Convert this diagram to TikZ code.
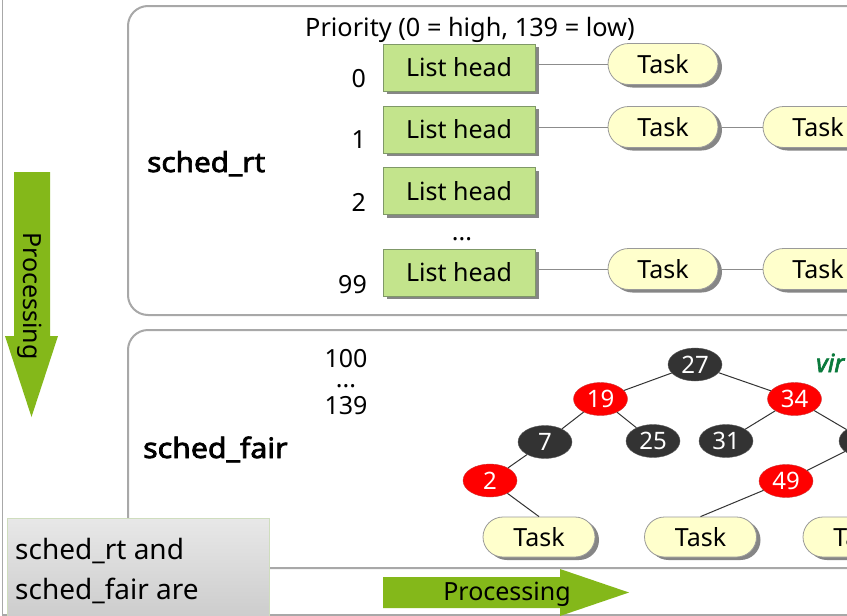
\documentclass[tikz,border=0pt]{standalone}
\usepackage{fontspec}
\setmainfont{Noto Sans}[AutoFakeBold=2.6]
\usetikzlibrary{shapes.geometric,shapes.misc,shadows}

\newcommand{\fsz}[1]{\fontsize{#1}{#1}\selectfont}
\newcommand{\heavy}{\bfseries\addfontfeatures{FakeStretch=1.08}}

\definecolor{framegray}{HTML}{A8A8A8}
\definecolor{lhfill}{HTML}{C3E48C}
\definecolor{lhline}{HTML}{7F9868}
\definecolor{taskfill}{HTML}{FFFFCC}
\definecolor{taskline}{HTML}{9A9A9A}
\definecolor{shadowgray}{HTML}{868686}
\definecolor{linkgray}{HTML}{8C8C8C}
\definecolor{rbblack}{HTML}{333333}
\definecolor{rbred}{HTML}{FF0000}
\definecolor{arrowgreen}{HTML}{84B81A}
\definecolor{vrgreen}{HTML}{0A7A3C}
\definecolor{notetop}{HTML}{E8E8E8}
\definecolor{notebot}{HTML}{C6C6C6}
\definecolor{noteline}{HTML}{CFDDBE}

\tikzset{
  frame/.style={draw=framegray, line width=1.5pt},
  panel/.style={draw=framegray, line width=2pt, rounded corners=20pt},
  listhead/.style={rectangle, draw=lhline, fill=lhfill, line width=0.8pt,
    minimum width=152pt, minimum height=47pt, inner sep=0pt, font=\fsz{25},
    drop shadow={shadow xshift=4pt, shadow yshift=-3pt, fill=shadowgray, opacity=1}},
  task/.style={rounded rectangle, draw=taskline, fill=taskfill, line width=0.8pt,
    minimum width=110pt, minimum height=41pt, inner sep=0pt, font=\fsz{25},
    drop shadow={shadow xshift=4pt, shadow yshift=-3pt, fill=shadowgray, opacity=1}},
  rbnode/.style={ellipse, minimum width=54pt, minimum height=33pt, inner sep=0pt,
    text=white, font=\fsz{24}},
  rbb/.style={rbnode, fill=rbblack, draw=gray!70!black},
  rbr/.style={rbnode, fill=rbred, draw=red!60!gray},
  link/.style={draw=linkgray, line width=1pt},
  edge/.style={draw=rbblack, line width=1pt},
  prio/.style={anchor=east, font=\fsz{25}, inner sep=0pt},
  plain/.style={font=\fsz{25}, inner sep=0pt},
  title/.style={inner sep=0pt, anchor=base west},
  bigarrow/.style={fill=arrowgreen, draw=none},
}

\begin{document}
\begin{tikzpicture}[x=1pt,y=-1pt]
\useasboundingbox (0,0) rectangle (847,616);
\fill[white] (0,0) rectangle (847,616);
\clip (0,0) rectangle (847,616);

% outer frame of the slide
\draw[frame] (2.5,0) -- (2.5,615) -- (847,615);

% ---------- sched_rt panel ----------
\draw[panel] (128,6) rectangle (920,315);
\node[title, font=\fsz{27.5}\heavy] (rt) at (147,172) {sched\_rt};
\node[plain, anchor=base west, font=\fsz{25.3}] (prioh) at (305,36) {Priority (0 = high, 139 = low)};

\node[prio] (p0)  at (366,78.5) {0};
\node[prio] (p1)  at (366,140) {1};
\node[prio] (p2)  at (366,202.5) {2};
\node[prio] (p99) at (367,285) {99};

\node[listhead] (lh0)  at (459,67.5)  {List head};
\node[listhead] (lh1)  at (459,129.5) {List head};
\node[listhead] (lh2)  at (459,191)   {List head};
\node[plain] (rtdots) at (462,239) {...};
\node[listhead] (lh99) at (459,272.5) {List head};

\node[task] (t0a)  at (663,64)  {Task};
\node[task] (t1a)  at (663,127) {Task};
\node[task] (t1b)  at (818,127) {Task};
\node[task] (t99a) at (663,269) {Task};
\node[task] (t99b) at (818,269) {Task};

\draw[link] (t0a.west)  -- ([xshift=4pt]lh0.east |- t0a.west);
\draw[link] (t1a.west)  -- ([xshift=4pt]lh1.east |- t1a.west);
\draw[link] (t99a.west) -- ([xshift=4pt]lh99.east |- t99a.west);
\draw[link] ([xshift=4pt]t1a.east)  -- (t1b.west);
\draw[link] ([xshift=4pt]t99a.east) -- (t99b.west);

% ---------- sched_fair panel ----------
\draw[panel] (128,330) rectangle (920,568);
\node[title, font=\fsz{28}\heavy] (fair) at (143,458) {sched\_fair};
\node[plain] (f100) at (346,359) {100};
\node[plain] (fdots) at (346,386) {...};
\node[plain] (f139) at (346,405.5) {139};

\node[font=\fsz{25}\itshape\addfontfeatures{FakeBold=2.6}, text=vrgreen, anchor=base west, inner sep=0pt] (vr) at (816,372) {vir};

% red-black tree
\node[rbb] (n27) at (695,364.5) {27};
\node[rbr] (n19) at (600.5,399) {19};
\node[rbr] (n34) at (794.5,399) {34};
\node[rbb] (n7)  at (545,442)   {7};
\node[rbb] (n25) at (653,441)   {25};
\node[rbb] (n31) at (726,441)   {31};
\node[rbb] (nx)  at (866,441)   {};
\node[rbr] (n2)  at (490,480.5) {2};
\node[rbr] (n49) at (786,481)   {49};

\node[task, minimum width=112pt, minimum height=40pt] (k1) at (539,537) {Task};
\node[task, minimum width=112pt, minimum height=40pt] (k2) at (700.5,537) {Task};
\node[task, minimum width=112pt, minimum height=40pt] (k3) at (859,537) {Task};

\draw[edge] (n27) -- (n19);
\draw[edge] (n27) -- (n34);
\draw[edge] (n19) -- (n7);
\draw[edge] (n19) -- (n25);
\draw[edge] (n34) -- (n31);
\draw[edge] (n34) -- (nx);
\draw[edge] (n7)  -- (n2);
\draw[edge] (nx)  -- (n49);
\draw[edge] (n2)  -- (k1.north);
\draw[edge] (n49) -- (k2.north);

% ---------- processing arrows ----------
\path[bigarrow] (14,172) -- (50,172) -- (50,336) -- (58,336) -- (31.5,417)
  -- (5,336) -- (14,336) -- cycle;
\node[plain, rotate=-90] (vproc) at (30,296) {Processing};

\path[bigarrow] (383,577) -- (560,577) -- (560,569) -- (629,592.5)
  -- (560,616) -- (560,608) -- (383,608) -- cycle;
\node[plain] (hproc) at (507,594) {Processing};

% ---------- note ----------
\shade[top color=notetop, bottom color=notebot, draw=noteline, line width=1pt]
  (7,518) rectangle (269,640);
\node[anchor=north west, align=left, inner sep=0pt, font=\fontsize{28}{40}\selectfont]
  (note) at (15,538.5) {sched\_rt and\\sched\_fair are};
\end{tikzpicture}
\end{document}
